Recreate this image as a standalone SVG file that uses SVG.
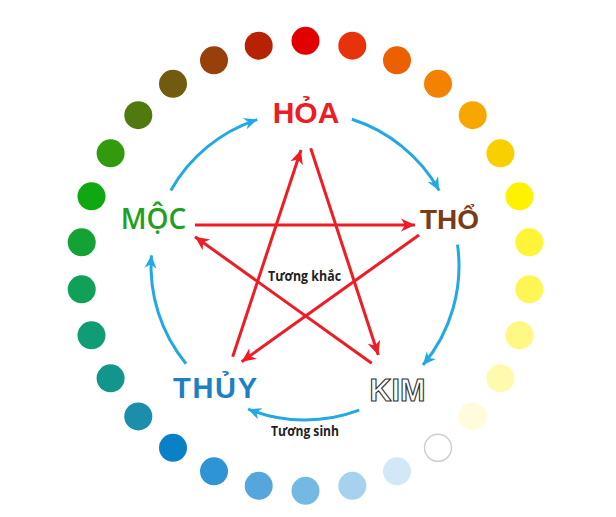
<svg xmlns="http://www.w3.org/2000/svg" width="616" height="517" viewBox="0 0 616 517">
<style>
.lbl{font-family:"Liberation Sans",Arial,sans-serif;font-weight:bold;text-anchor:middle}
.small{font-family:"Open Sans","Liberation Sans",Arial,sans-serif;font-weight:bold;font-size:14px;fill:#222;text-anchor:middle}
.sinh{fill:none;stroke:#22a8e2;stroke-width:3;marker-end:url(#ab)}
.khac{fill:none;stroke:#ee1c25;stroke-width:3;marker-end:url(#ar)}
</style>
<defs>
<marker id="ar" markerUnits="userSpaceOnUse" markerWidth="16" markerHeight="16" viewBox="-14 -7 16 14" refX="0" refY="0" orient="auto">
<path d="M-14,-6.5 L0,0 L-14,6.5 L-10,0 Z" fill="#ee1c25"/>
</marker>
<marker id="ab" markerUnits="userSpaceOnUse" markerWidth="16" markerHeight="16" viewBox="-14 -7 16 14" refX="0" refY="0" orient="auto">
<path d="M-13,-6 L0,0 L-13,6 L-9,0 Z" fill="#22a8e2"/>
</marker>
</defs>
<rect width="616" height="517" fill="#fff"/>
<g id="ring">
<circle cx="305.5" cy="40.8" r="14" fill="#e30000"/>
<circle cx="352.3" cy="45.7" r="14" fill="#e8320c"/>
<circle cx="397" cy="60.3" r="14" fill="#ed6000"/>
<circle cx="438" cy="83.8" r="14" fill="#f28200"/>
<circle cx="472.7" cy="115.2" r="14" fill="#f6a800"/>
<circle cx="500.4" cy="153.3" r="14" fill="#f8d000"/>
<circle cx="519.5" cy="196.3" r="14" fill="#fff200"/>
<circle cx="529.3" cy="242.3" r="14" fill="#fff436"/>
<circle cx="529.3" cy="289.3" r="14" fill="#fff656"/>
<circle cx="519.5" cy="335.3" r="14" fill="#fff884"/>
<circle cx="500.4" cy="378.3" r="14" fill="#fffaae"/>
<circle cx="472.7" cy="416.4" r="14" fill="#fffcdc"/>
<circle cx="438" cy="447.8" r="13.5" fill="#fff" stroke="#cfcfcf" stroke-width="1.5"/>
<circle cx="397" cy="471.3" r="14" fill="#d2e8f6"/>
<circle cx="352.3" cy="485.8" r="14" fill="#a6d2ee"/>
<circle cx="305.5" cy="490.8" r="14" fill="#74b8e4"/>
<circle cx="258.7" cy="485.8" r="14" fill="#54a6dc"/>
<circle cx="214" cy="471.3" r="14" fill="#2e94d4"/>
<circle cx="173" cy="447.8" r="14" fill="#0a80c6"/>
<circle cx="138.3" cy="416.4" r="14" fill="#1a8eaa"/>
<circle cx="110.6" cy="378.3" r="14" fill="#12968c"/>
<circle cx="91.5" cy="335.3" r="14" fill="#109c74"/>
<circle cx="81.7" cy="289.3" r="14" fill="#10a058"/>
<circle cx="81.7" cy="242.3" r="14" fill="#14a234"/>
<circle cx="91.5" cy="196.3" r="14" fill="#10a810"/>
<circle cx="110.6" cy="153.3" r="14" fill="#339a0e"/>
<circle cx="138.3" cy="115.2" r="14" fill="#507a10"/>
<circle cx="173" cy="83.8" r="14" fill="#725a0e"/>
<circle cx="214" cy="60.3" r="14" fill="#98400a"/>
<circle cx="258.7" cy="45.7" r="14" fill="#b82204"/>
</g>
<g id="connectors">
<path class="sinh" d="M170.8,190.4 A154,154 0 0 1 257.2,119.6"/>
<path class="sinh" d="M351.8,119.3 A154,154 0 0 1 439.2,190.4"/>
<path class="sinh" d="M457.5,244.6 A154,154 0 0 1 423,365"/>
<path class="sinh" d="M359.2,410.2 A154,154 0 0 1 248.1,409.1"/>
<path class="sinh" d="M186,363.7 A154,154 0 0 1 151.4,255.3"/>
<line class="khac" x1="195" y1="225" x2="415" y2="225"/>
<line class="khac" x1="419" y1="235" x2="241.7" y2="361.7"/>
<line class="khac" x1="371.7" y1="363.3" x2="195" y2="236.7"/>
<line class="khac" x1="232.7" y1="356.7" x2="301" y2="150"/>
<line class="khac" x1="310.7" y1="148.3" x2="378.3" y2="355"/>
</g>
<g id="node-hoa"><text class="lbl" x="306" y="123.3" font-size="30" fill="#ee1c25">HỎA</text></g>
<g id="node-tho"><text class="lbl" x="449.5" y="228.5" font-size="28" fill="#7b3a18">THỔ</text></g>
<g id="node-kim"><text class="lbl" x="397.5" y="401" font-size="30.5" fill="#fff" stroke="#333" stroke-width="1.1">KIM</text></g>
<g id="node-thuy"><text class="lbl" x="215" y="398" font-size="29" fill="#1e7fc4" textLength="84">THỦY</text></g>
<g id="node-moc"><text x="153.5" y="228.5" font-family="'Open Sans','Liberation Sans',Arial,sans-serif" font-weight="600" font-size="28" text-anchor="middle" fill="#20a020">MỘC</text></g>
<g id="label-tuong-khac"><text class="small" x="304.5" y="280.5" textLength="73" lengthAdjust="spacingAndGlyphs">Tương khắc</text></g>
<g id="label-tuong-sinh"><text class="small" x="305" y="436" textLength="68" lengthAdjust="spacingAndGlyphs">Tương sinh</text></g>
</svg>
